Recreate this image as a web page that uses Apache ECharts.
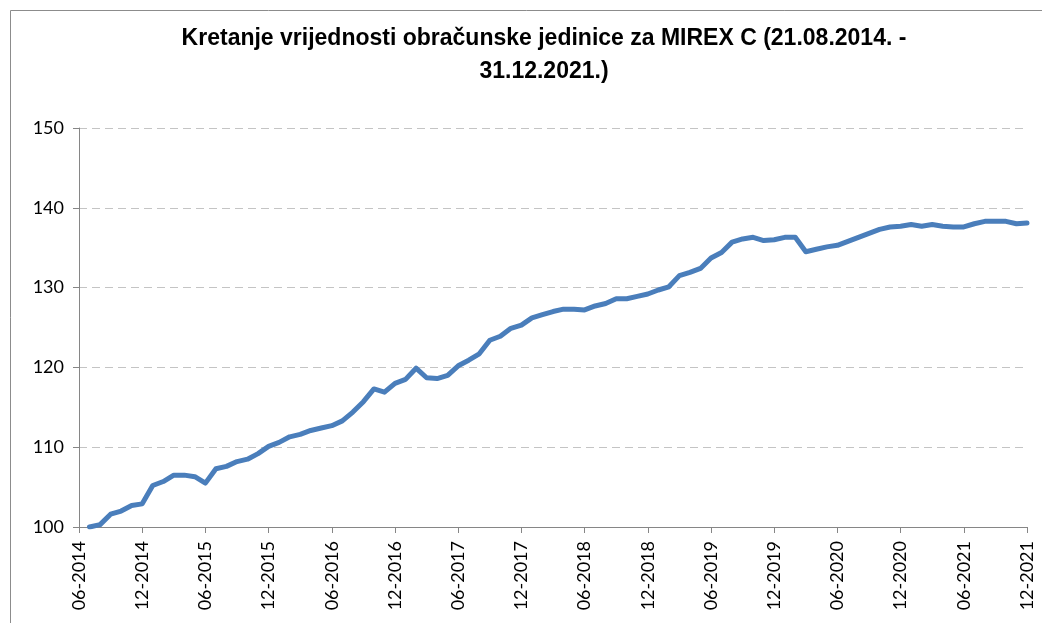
<!DOCTYPE html>
<html>
<head>
<meta charset="utf-8">
<script src="https://cdn.jsdelivr.net/npm/echarts@6/dist/echarts.min.js"></script>
<style>
  html, body { margin: 0; padding: 0; background: #fff; }
  #chart { width: 1042px; height: 623px; }
</style>
</head>
<body>
<div id="chart"></div>
<script>
// mjesečne kategorije 06-2014 .. 12-2021
var months = [];
for (var y = 2014; y <= 2021; y++) {
  for (var m = 1; m <= 12; m++) {
    if (y === 2014 && m < 6) continue;
    months.push((m < 10 ? '0' + m : '' + m) + '-' + y);
  }
}

// vrijednost obračunske jedinice (očitano sa slike), prvi mjesec bez podatka
var values = [
  null,
  100.0, 100.3, 101.6, 102.0, 102.7, 102.9, 105.2, 105.7, 106.5, 106.5, 106.3, 105.5,
  107.3, 107.6, 108.2, 108.5, 109.2, 110.1, 110.6, 111.3, 111.6, 112.1, 112.4, 112.7,
  113.3, 114.4, 115.7, 117.3, 116.9, 118.0, 118.5, 119.9, 118.7, 118.6, 119.0, 120.2,
  120.9, 121.7, 123.4, 123.9, 124.9, 125.3, 126.2, 126.6, 127.0, 127.3, 127.3, 127.2,
  127.7, 128.0, 128.6, 128.6, 128.9, 129.2, 129.7, 130.1, 131.5, 131.9, 132.4, 133.7,
  134.4, 135.7, 136.1, 136.3, 135.9, 136.0, 136.3, 136.3, 134.5, 134.8, 135.1, 135.3,
  135.8, 136.3, 136.8, 137.3, 137.6, 137.7, 137.9, 137.7, 137.9, 137.7, 137.6, 137.6,
  138.0, 138.3, 138.3, 138.3, 138.0, 138.1
];

var titleText = 'Kretanje vrijednosti obračunske jedinice za MIREX C (21.08.2014. -\n31.12.2021.)';
var fontFam = 'Lato, "Liberation Sans", sans-serif';
var titleFont = '"Liberation Sans", Arial, sans-serif';

var myChart = echarts.init(document.getElementById('chart'));
myChart.setOption({
  animation: false,
  backgroundColor: '#fff',
  textStyle: { fontFamily: fontFam },
  title: {
    text: titleText,
    left: 539,
    top: 17,
    textAlign: 'center',
    textStyle: {
      color: '#000',
      fontSize: 23,
      fontWeight: 'bold',
      fontFamily: titleFont,
      lineHeight: 33
    }
  },
  // okvir grafikona
  graphic: [{
    type: 'rect',
    shape: { x: 10.5, y: 10.5, width: 1100, height: 700 },
    style: { fill: 'none', stroke: '#8c8c8c', lineWidth: 1 },
    silent: true
  }],
  grid: {
    left: 79,
    right: 15,
    top: 128,
    bottom: 96,
    containLabel: false
  },
  xAxis: {
    type: 'category',
    boundaryGap: false,
    data: months,
    axisLine: { lineStyle: { color: '#868686', width: 1 } },
    axisTick: {
      interval: 5,
      length: 6,
      lineStyle: { color: '#868686' }
    },
    axisLabel: {
      interval: 5,
      rotate: 90,
      margin: 14,
      color: '#000',
      fontSize: 18,
      fontFamily: fontFam
    },
    splitLine: { show: false }
  },
  yAxis: {
    type: 'value',
    min: 100,
    max: 150,
    interval: 10,
    axisLine: { show: true, lineStyle: { color: '#868686', width: 1 } },
    axisTick: { show: true, length: 6, lineStyle: { color: '#868686' } },
    axisLabel: {
      margin: 15,
      color: '#000',
      fontSize: 18,
      fontFamily: fontFam
    },
    splitLine: {
      lineStyle: { color: '#c4c4c4', type: [8, 5], width: 1 }
    }
  },
  series: [{
    name: 'MIREX C',
    type: 'line',
    data: values,
    symbol: 'none',
    connectNulls: false,
    lineStyle: { color: '#4a7ebb', width: 5, join: 'round', cap: 'round' }
  }]
});
</script>
</body>
</html>
